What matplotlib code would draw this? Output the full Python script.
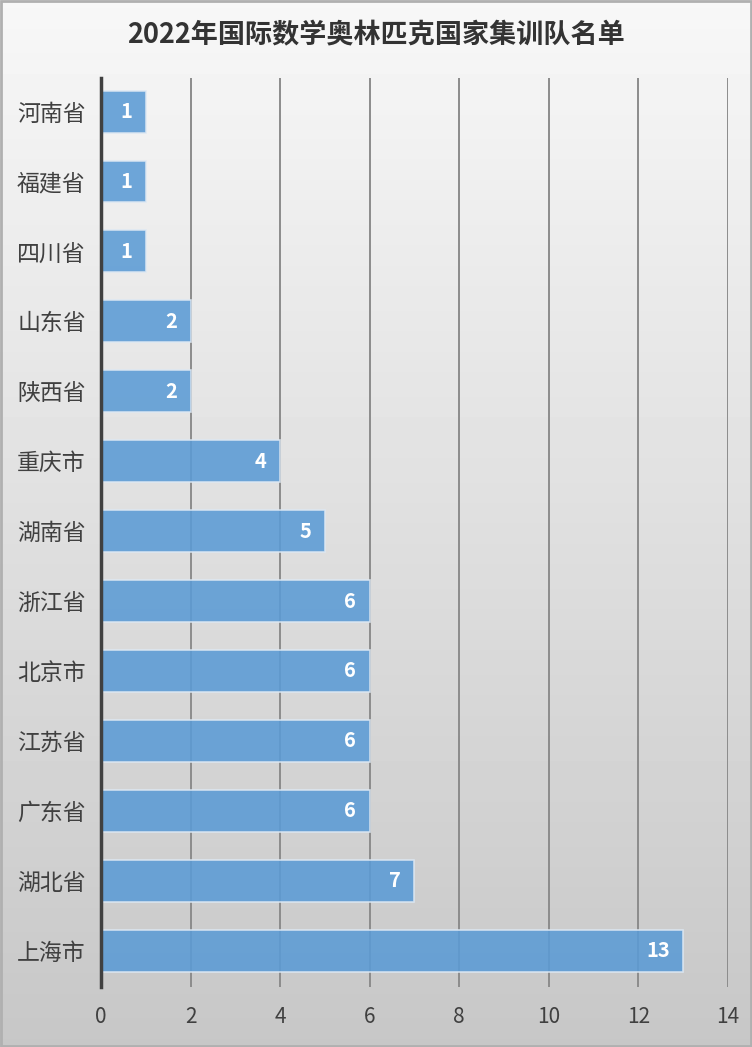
import numpy as np
import matplotlib.pyplot as plt

plt.rcParams['font.family'] = ['Noto Sans CJK SC', 'DejaVu Sans']

provinces = ['河南省', '福建省', '四川省', '山东省', '陕西省', '重庆市', '湖南省',
             '浙江省', '北京市', '江苏省', '广东省', '湖北省', '上海市']
counts = [1, 1, 1, 2, 2, 4, 5, 6, 6, 6, 6, 7, 13]
title = '2022年国际数学奥林匹克国家集训队名单'

fig = plt.figure(figsize=(7.52, 10.47), dpi=100)

# 背景渐变
bg = fig.add_axes([0, 0, 1, 1], zorder=-10)
grad = np.linspace(0.97, 0.78, 256).reshape(-1, 1)
bg.imshow(grad, aspect='auto', cmap='gray', vmin=0, vmax=1, extent=[0, 1, 0, 1])
bg.set_xlim(0, 1)
bg.set_ylim(0, 1)
bg.axis('off')
fig.patches.append(plt.Rectangle((0.001, 0.001), 0.998, 0.998, transform=fig.transFigure,
                                 fill=False, edgecolor='#b0b0b0', linewidth=2))

ax = fig.add_axes([0.1343, 0.0573, 0.968 - 0.1343, 0.9255 - 0.0573])
ax.patch.set_alpha(0)

y = np.arange(len(provinces))
ax.barh(y, counts, height=0.6, color='#5b9bd5', alpha=0.88,
        edgecolor='#dde8f3', linewidth=1.2, zorder=3)

for yi, v in zip(y, counts):
    ax.text(v - 0.3, yi, str(v), ha='right', va='center', color='white',
            fontsize=14.5, fontweight='bold', zorder=4)

ax.set_xlim(0, 14)
ax.set_ylim(len(provinces) - 0.48, -0.48)
ax.set_xticks(range(0, 15, 2))
ax.set_yticks(y)
ax.set_yticklabels(provinces, fontsize=16.5, color='#404040')
ax.tick_params(axis='x', length=0, pad=14, labelsize=15, labelcolor='#404040')
ax.tick_params(axis='y', length=0, pad=11)
ax.grid(axis='x', color='#8c8c8c', linewidth=1.4, zorder=0)
ax.set_axisbelow(True)

for s in ['top', 'right', 'bottom']:
    ax.spines[s].set_visible(False)
ax.spines['left'].set_color('#404040')
ax.spines['left'].set_linewidth(2.5)
ax.spines['left'].set_zorder(5)

fig.text(0.5, 0.966, title, ha='center', va='center', fontsize=19.5,
         fontweight='bold', color='#333333')

fig.savefig('out.png', dpi=100)
